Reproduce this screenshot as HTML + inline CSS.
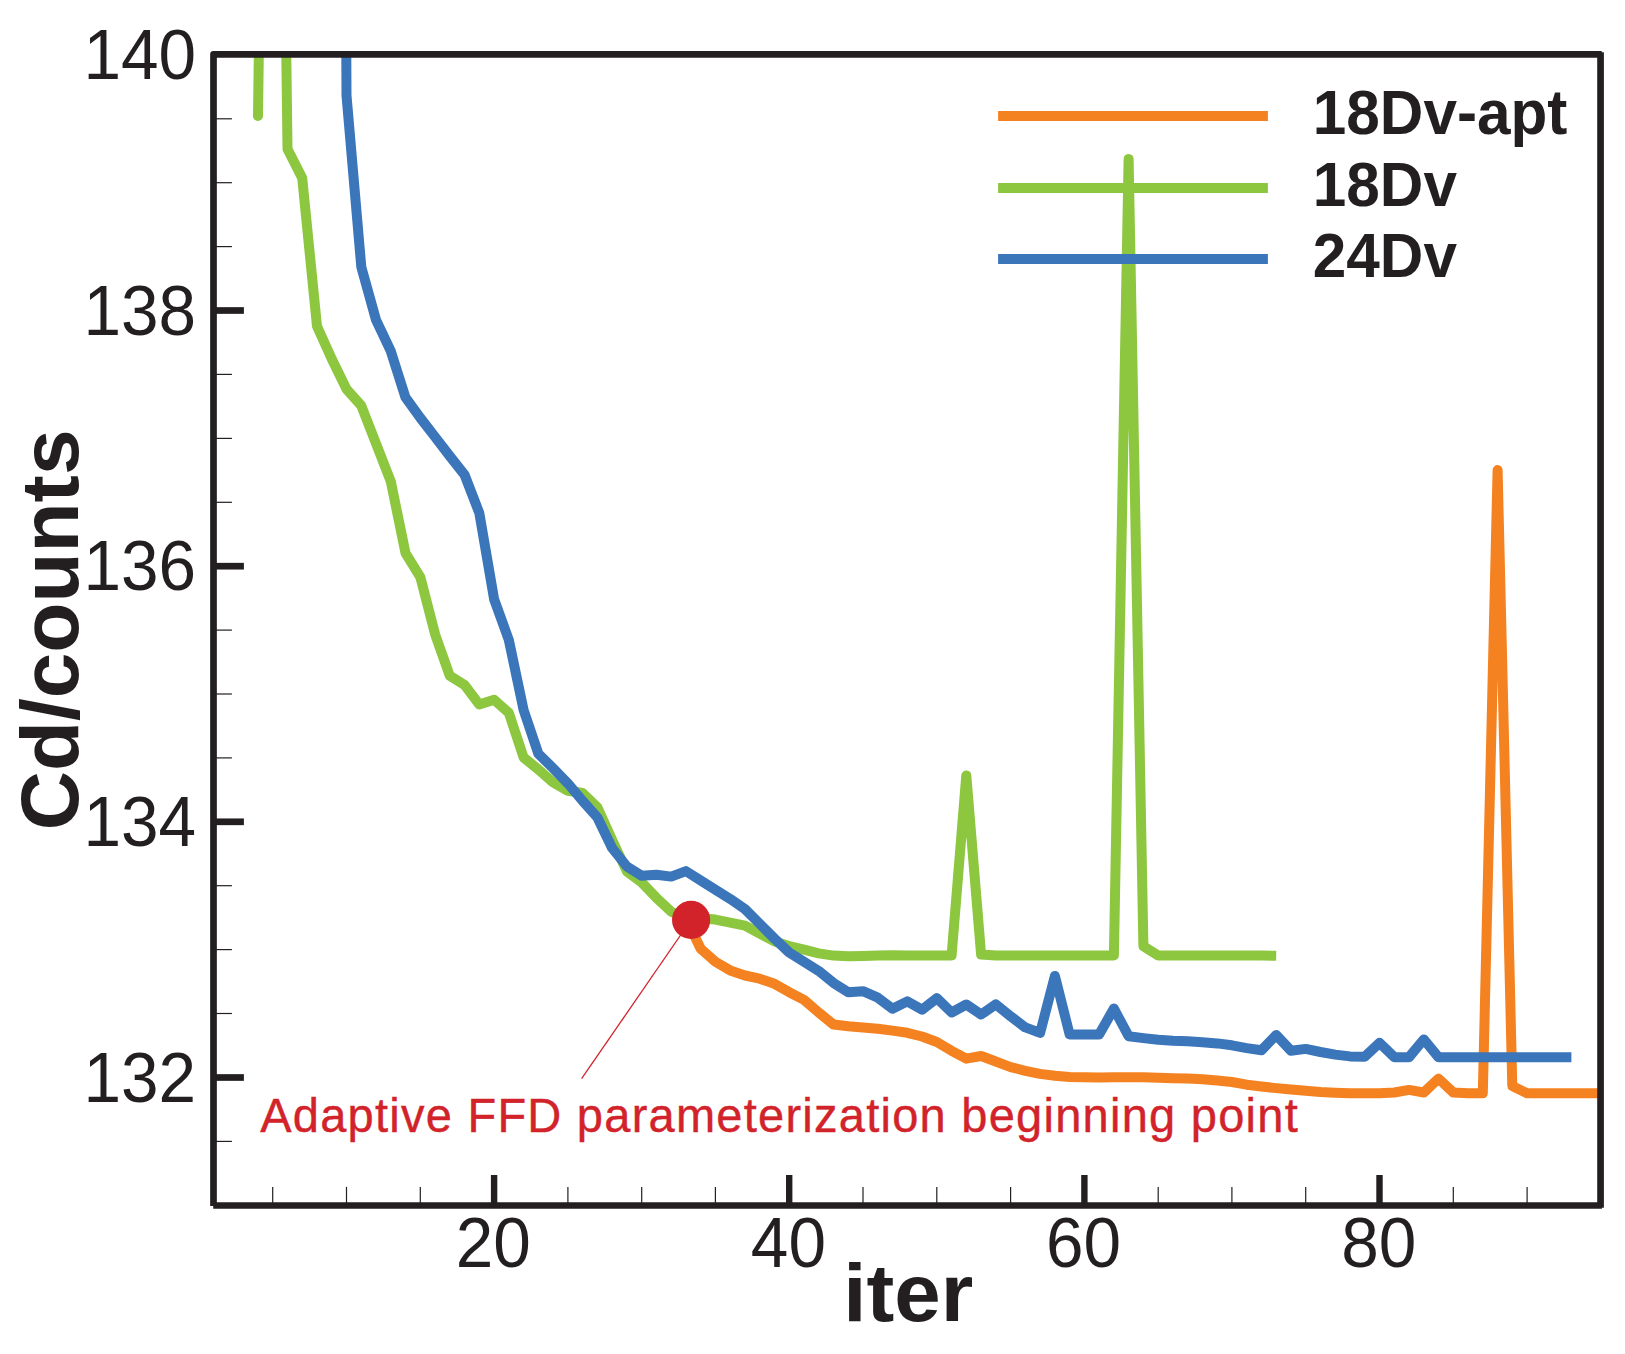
<!DOCTYPE html>
<html lang="en">
<head>
<meta charset="utf-8">
<title>Cd/counts vs iter</title>
<style>
html,body{margin:0;padding:0;background:#fff;}
body{width:1625px;height:1354px;overflow:hidden;}
svg{display:block;}
text{font-family:"Liberation Sans",sans-serif;fill:#231f20;}
.tick{font-size:67.5px;}
.ttl{font-size:82px;font-weight:bold;}
.leg{font-size:60.3px;font-weight:bold;}
.ann{font-size:47px;fill:#d2232a;}
</style>
</head>
<body>
<svg width="1625" height="1354" viewBox="0 0 1625 1354">
<rect x="0" y="0" width="1625" height="1354" fill="#ffffff"/>
<defs><clipPath id="plot"><rect x="213.5" y="54.45" width="1387.05" height="1151.05"/></clipPath></defs>
<g clip-path="url(#plot)" fill="none" stroke-width="10.0" stroke-linejoin="round" stroke-linecap="butt">
<polyline stroke="#f58220" points="685.9,918.2 700.7,948.8 715.4,961.7 730.2,970.4 745.0,975.5 759.7,978.7 774.5,983.8 789.2,992.2 804.0,999.9 818.7,1012.5 833.5,1024.5 848.3,1026.3 863.0,1027.6 877.8,1028.7 892.5,1030.6 907.3,1032.8 922.0,1036.5 936.8,1042.0 951.6,1050.8 966.3,1058.7 981.1,1056.0 995.8,1061.5 1010.6,1067.1 1025.3,1070.8 1040.1,1073.9 1054.9,1075.8 1069.6,1076.9 1084.4,1077.2 1099.1,1077.6 1113.9,1077.2 1128.6,1077.2 1143.4,1077.2 1158.2,1077.8 1172.9,1078.2 1187.7,1078.5 1202.4,1079.3 1217.2,1080.5 1231.9,1082.0 1246.7,1084.7 1261.5,1086.5 1276.2,1088.1 1291.0,1089.4 1305.7,1090.7 1320.5,1092.0 1335.2,1092.8 1350.0,1093.3 1364.8,1093.3 1379.5,1093.3 1394.3,1092.5 1409.0,1089.9 1423.8,1092.5 1438.5,1078.7 1453.3,1092.5 1468.1,1093.3 1482.8,1093.3 1497.6,470.0 1512.3,1086.0 1527.1,1093.3 1541.8,1093.3 1556.6,1093.3 1571.4,1093.3 1586.1,1093.3 1600.9,1093.3"/>
<polyline stroke="#8dc63f" stroke-linecap="round" points="258.0,116.0 272.7,-1000.0"/>
<polyline stroke="#8dc63f" points="272.7,-1000.0 287.5,149.0 302.2,178.0 317.0,326.3 331.8,359.0 346.5,389.1 361.3,405.7 376.0,443.5 390.8,481.5 405.5,553.1 420.3,577.1 435.1,634.3 449.8,675.8 464.6,685.1 479.3,704.5 494.1,699.8 508.8,712.8 523.6,757.5 538.4,769.5 553.1,782.5 567.9,790.8 582.6,793.0 597.4,807.4 612.1,839.7 626.9,871.5 641.7,882.5 656.4,897.8 671.2,911.7 685.9,918.2 700.7,918.2 715.4,919.6 730.2,922.6 745.0,925.6 759.7,933.5 774.5,941.4 789.2,946.0 804.0,949.7 818.7,953.4 833.5,955.6 848.3,956.2 863.0,956.0 877.8,955.6 892.5,955.2 907.3,955.4 922.0,955.4 936.8,955.4 951.6,955.4 966.3,775.5 981.1,954.5 995.8,955.4 1010.6,955.4 1025.3,955.4 1040.1,955.4 1054.9,955.4 1069.6,955.4 1084.4,955.4 1099.1,955.4 1113.9,955.4 1128.6,158.9 1143.4,946.2 1158.2,955.4 1172.9,955.6 1187.7,955.6 1202.4,955.6 1217.2,955.6 1231.9,955.6 1246.7,955.6 1261.5,955.6 1276.2,955.8"/>
<polyline stroke="#3b75ba" points="331.8,-3000.0 346.5,95.5 361.3,267.0 376.0,319.8 390.8,351.2 405.5,397.4 420.3,417.9 435.1,437.0 449.8,456.1 464.6,474.9 479.3,513.0 494.1,599.2 508.8,639.9 523.6,710.0 538.4,753.8 553.1,768.2 567.9,783.4 582.6,800.9 597.4,817.5 612.1,848.0 626.9,866.5 641.7,875.7 656.4,874.8 671.2,876.6 685.9,871.1 700.7,880.5 715.4,889.7 730.2,898.9 745.0,909.1 759.7,923.8 774.5,938.6 789.2,952.5 804.0,961.7 818.7,970.9 833.5,982.9 848.3,992.2 863.0,991.2 877.8,997.7 892.5,1008.8 907.3,1001.4 922.0,1009.7 936.8,998.2 951.6,1012.5 966.3,1004.5 981.1,1014.5 995.8,1004.3 1010.6,1016.3 1025.3,1027.4 1040.1,1032.9 1054.9,975.9 1069.6,1034.4 1084.4,1034.4 1099.1,1034.4 1113.9,1008.6 1128.6,1036.2 1143.4,1038.1 1158.2,1039.8 1172.9,1040.7 1187.7,1041.2 1202.4,1042.2 1217.2,1043.4 1231.9,1045.3 1246.7,1048.1 1261.5,1050.2 1276.2,1035.0 1291.0,1050.7 1305.7,1048.9 1320.5,1052.0 1335.2,1054.6 1350.0,1056.4 1364.8,1056.7 1379.5,1042.8 1394.3,1057.2 1409.0,1057.2 1423.8,1039.4 1438.5,1057.2 1453.3,1057.2 1468.1,1057.2 1482.8,1057.2 1497.6,1057.2 1512.3,1057.2 1527.1,1057.2 1541.8,1057.2 1556.6,1057.2 1571.4,1057.2"/>
</g>
<line x1="691" y1="920" x2="581.6" y2="1078.7" stroke="#d2232a" stroke-width="1.3"/>
<circle cx="691.1" cy="919.9" r="19.1" fill="#d2232a"/>
<text class="ann" id="ann" transform="translate(260.2,1131.8) scale(1,1.03)" stroke="#d2232a" stroke-width="0.4" textLength="1037.5" lengthAdjust="spacing">Adaptive FFD parameterization beginning point</text>
<line x1="998.1" y1="115.95" x2="1267.9" y2="115.95" stroke="#f58220" stroke-width="9.9"/>
<text class="leg" transform="translate(1312.8,134.0) scale(1,1.038)">18Dv-apt</text>
<line x1="998.1" y1="188.0" x2="1267.9" y2="188.0" stroke="#8dc63f" stroke-width="9.9"/>
<text class="leg" transform="translate(1312.8,205.7) scale(1,1.038)">18Dv</text>
<line x1="998.1" y1="259.0" x2="1267.9" y2="259.0" stroke="#3b75ba" stroke-width="9.9"/>
<text class="leg" transform="translate(1312.8,276.9) scale(1,1.038)">24Dv</text>
<g stroke="#231f20" fill="none">
<line x1="213.5" y1="1141.4" x2="231.9" y2="1141.4" stroke-width="1.2"/>
<line x1="213.5" y1="1013.5" x2="231.9" y2="1013.5" stroke-width="1.2"/>
<line x1="213.5" y1="949.6" x2="231.9" y2="949.6" stroke-width="1.2"/>
<line x1="213.5" y1="885.7" x2="231.9" y2="885.7" stroke-width="1.2"/>
<line x1="213.5" y1="757.9" x2="231.9" y2="757.9" stroke-width="1.2"/>
<line x1="213.5" y1="694.0" x2="231.9" y2="694.0" stroke-width="1.2"/>
<line x1="213.5" y1="630.1" x2="231.9" y2="630.1" stroke-width="1.2"/>
<line x1="213.5" y1="502.3" x2="231.9" y2="502.3" stroke-width="1.2"/>
<line x1="213.5" y1="438.4" x2="231.9" y2="438.4" stroke-width="1.2"/>
<line x1="213.5" y1="374.4" x2="231.9" y2="374.4" stroke-width="1.2"/>
<line x1="213.5" y1="246.6" x2="231.9" y2="246.6" stroke-width="1.2"/>
<line x1="213.5" y1="182.7" x2="231.9" y2="182.7" stroke-width="1.2"/>
<line x1="213.5" y1="118.8" x2="231.9" y2="118.8" stroke-width="1.2"/>
<line x1="213.5" y1="1077.5" x2="243.9" y2="1077.5" stroke-width="6.7"/>
<line x1="213.5" y1="821.8" x2="243.9" y2="821.8" stroke-width="6.7"/>
<line x1="213.5" y1="566.2" x2="243.9" y2="566.2" stroke-width="6.7"/>
<line x1="213.5" y1="310.5" x2="243.9" y2="310.5" stroke-width="6.7"/>
<line x1="272.7" y1="1205.5" x2="272.7" y2="1186.9" stroke-width="1.2"/>
<line x1="346.5" y1="1205.5" x2="346.5" y2="1186.9" stroke-width="1.2"/>
<line x1="420.3" y1="1205.5" x2="420.3" y2="1186.9" stroke-width="1.2"/>
<line x1="494.1" y1="1205.5" x2="494.1" y2="1175" stroke-width="6.4"/>
<line x1="567.9" y1="1205.5" x2="567.9" y2="1186.9" stroke-width="1.2"/>
<line x1="641.7" y1="1205.5" x2="641.7" y2="1186.9" stroke-width="1.2"/>
<line x1="715.4" y1="1205.5" x2="715.4" y2="1186.9" stroke-width="1.2"/>
<line x1="789.2" y1="1205.5" x2="789.2" y2="1175" stroke-width="6.4"/>
<line x1="863.0" y1="1205.5" x2="863.0" y2="1186.9" stroke-width="1.2"/>
<line x1="936.8" y1="1205.5" x2="936.8" y2="1186.9" stroke-width="1.2"/>
<line x1="1010.6" y1="1205.5" x2="1010.6" y2="1186.9" stroke-width="1.2"/>
<line x1="1084.4" y1="1205.5" x2="1084.4" y2="1175" stroke-width="6.4"/>
<line x1="1158.2" y1="1205.5" x2="1158.2" y2="1186.9" stroke-width="1.2"/>
<line x1="1231.9" y1="1205.5" x2="1231.9" y2="1186.9" stroke-width="1.2"/>
<line x1="1305.7" y1="1205.5" x2="1305.7" y2="1186.9" stroke-width="1.2"/>
<line x1="1379.5" y1="1205.5" x2="1379.5" y2="1175" stroke-width="6.4"/>
<line x1="1453.3" y1="1205.5" x2="1453.3" y2="1186.9" stroke-width="1.2"/>
<line x1="1527.1" y1="1205.5" x2="1527.1" y2="1186.9" stroke-width="1.2"/>
</g>
<g fill="none" stroke="#231f20" stroke-width="6.7" stroke-linecap="butt">
<polyline stroke-linejoin="round" points="213.5,1205.9 213.5,54.45 1601.7,54.45"/>
<line x1="1600.55" y1="52.2" x2="1600.55" y2="1207.7"/>
<line x1="213.2" y1="1205.5" x2="1601.9" y2="1205.5"/>
</g>
<text class="tick" transform="translate(196,1101.7) scale(1,1.038)" text-anchor="end">132</text>
<text class="tick" transform="translate(196,846.0) scale(1,1.038)" text-anchor="end">134</text>
<text class="tick" transform="translate(196,590.4) scale(1,1.038)" text-anchor="end">136</text>
<text class="tick" transform="translate(196,334.7) scale(1,1.038)" text-anchor="end">138</text>
<text class="tick" transform="translate(196,79.1) scale(1,1.038)" text-anchor="end">140</text>
<text class="tick" transform="translate(493.3,1266.7) scale(1,1.038)" text-anchor="middle">20</text>
<text class="tick" transform="translate(788.4,1266.7) scale(1,1.038)" text-anchor="middle">40</text>
<text class="tick" transform="translate(1083.6,1266.7) scale(1,1.038)" text-anchor="middle">60</text>
<text class="tick" transform="translate(1378.7,1266.7) scale(1,1.038)" text-anchor="middle">80</text>
<text class="ttl" style="font-size:83.5px" transform="translate(908.3,1320.9) scale(1,0.975)" text-anchor="middle">iter</text>
<text class="ttl" transform="translate(77.8,629.9) rotate(-90)" text-anchor="middle">Cd/counts</text>
</svg>
</body>
</html>
